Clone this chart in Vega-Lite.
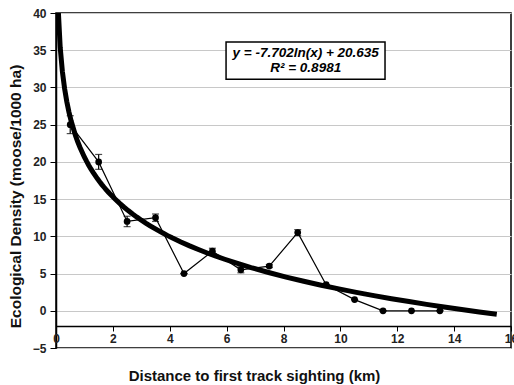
{
  "$schema": "https://vega.github.io/schema/vega-lite/v6.json",
  "width": 455,
  "height": 335,
  "autosize": {"type": "none"},
  "padding": {"left": 56, "top": 13, "right": 3, "bottom": 37},
  "background": "white",
  "config": {
    "view": {"stroke": "black", "strokeWidth": 1.5},
    "font": "Liberation Sans",
    "axis": {"labelFont": "Liberation Sans", "titleFont": "Liberation Sans", "labelFontWeight": "bold", "titleFontWeight": "bold", "labelColor": "#222", "titleColor": "#111", "domainColor": "black", "tickColor": "black", "labelOverlap": false}
  },
  "datasets": {
    "obs": [
      {"x": 0.5, "y": 25, "lo": 23.8, "hi": 26.2},
      {"x": 1.5, "y": 20, "lo": 19.0, "hi": 21.0},
      {"x": 2.5, "y": 12, "lo": 11.3, "hi": 12.7},
      {"x": 3.5, "y": 12.5, "lo": 12.0, "hi": 13.0},
      {"x": 4.5, "y": 5, "lo": 5, "hi": 5},
      {"x": 5.5, "y": 8, "lo": 7.6, "hi": 8.4},
      {"x": 6.5, "y": 5.5, "lo": 5.1, "hi": 5.9},
      {"x": 7.5, "y": 6, "lo": 5.8, "hi": 6.2},
      {"x": 8.5, "y": 10.5, "lo": 10.1, "hi": 10.9},
      {"x": 9.5, "y": 3.5, "lo": 3.5, "hi": 3.5},
      {"x": 10.5, "y": 1.5, "lo": 1.5, "hi": 1.5},
      {"x": 11.5, "y": 0, "lo": 0, "hi": 0},
      {"x": 12.5, "y": 0, "lo": 0, "hi": 0},
      {"x": 13.5, "y": 0, "lo": 0, "hi": 0}
    ],
    "box": [{"x": 5.98, "x2": 11.57, "y": 36.1, "y2": 31.1}],
    "eq": [
      {"x": 8.78, "y": 34.6, "t": "y = -7.702ln(x) + 20.635"},
      {"x": 8.78, "y": 32.6, "t": "R² = 0.8981"}
    ]
  },
  "layer": [
    {
      "data": {"name": "obs"},
      "transform": [{"regression": "y", "on": "x", "method": "log", "extent": [0.07, 15.5]}],
      "mark": {"type": "line", "color": "black", "strokeWidth": 5, "clip": true},
      "encoding": {
        "x": {"field": "x", "type": "quantitative", "title": "Distance to first track sighting (km)", "scale": {"domain": [0, 16], "nice": false},
          "axis": {"tickCount": 8, "grid": false, "offset": -22, "labelFlush": false, "labelBound": false, "labelFontSize": 12, "labelPadding": 2, "tickSize": 5, "domainWidth": 1.5, "titleFontSize": 15, "titleX": 198, "titleY": 49, "titleBaseline": "middle", "zindex": 1}},
        "y": {"field": "y", "type": "quantitative", "title": "Ecological Density (moose/1000 ha)", "scale": {"domain": [-5, 40], "nice": false, "zero": false},
          "axis": {"tickCount": 9, "grid": true, "gridColor": "#c8c8c8", "gridWidth": 1, "labelFontSize": 12, "tickSize": 6, "labelPadding": 4, "domainWidth": 1.5, "titleFontSize": 15.5, "titleX": -41, "titleY": 183, "titleBaseline": "middle"}}
      }
    },
    {
      "data": {"name": "obs"},
      "mark": {"type": "line", "color": "black", "strokeWidth": 1.2, "point": {"filled": true, "color": "black", "size": 45}},
      "encoding": {
        "x": {"field": "x", "type": "quantitative", "title": "Distance to first track sighting (km)"},
        "y": {"field": "y", "type": "quantitative", "title": "Ecological Density (moose/1000 ha)"}
      }
    },
    {
      "data": {"name": "obs"},
      "mark": {"type": "errorbar", "color": "black", "thickness": 1.2, "ticks": {"size": 7, "color": "black"}},
      "encoding": {
        "x": {"field": "x", "type": "quantitative", "title": "Distance to first track sighting (km)"},
        "y": {"field": "lo", "type": "quantitative", "title": "Ecological Density (moose/1000 ha)"},
        "y2": {"field": "hi"}
      }
    },
    {
      "data": {"name": "box"},
      "mark": {"type": "rect", "fill": "white", "stroke": "black", "strokeWidth": 1.5},
      "encoding": {
        "x": {"field": "x", "type": "quantitative", "title": "Distance to first track sighting (km)"},
        "x2": {"field": "x2"},
        "y": {"field": "y", "type": "quantitative", "title": "Ecological Density (moose/1000 ha)"},
        "y2": {"field": "y2"}
      }
    },
    {
      "data": {"name": "eq"},
      "mark": {"type": "text", "font": "Liberation Sans", "fontWeight": "bold", "fontStyle": "italic", "fontSize": 13.5, "color": "black", "baseline": "middle"},
      "encoding": {
        "x": {"field": "x", "type": "quantitative", "title": "Distance to first track sighting (km)"},
        "y": {"field": "y", "type": "quantitative", "title": "Ecological Density (moose/1000 ha)"},
        "text": {"field": "t"}
      }
    }
  ]
}
